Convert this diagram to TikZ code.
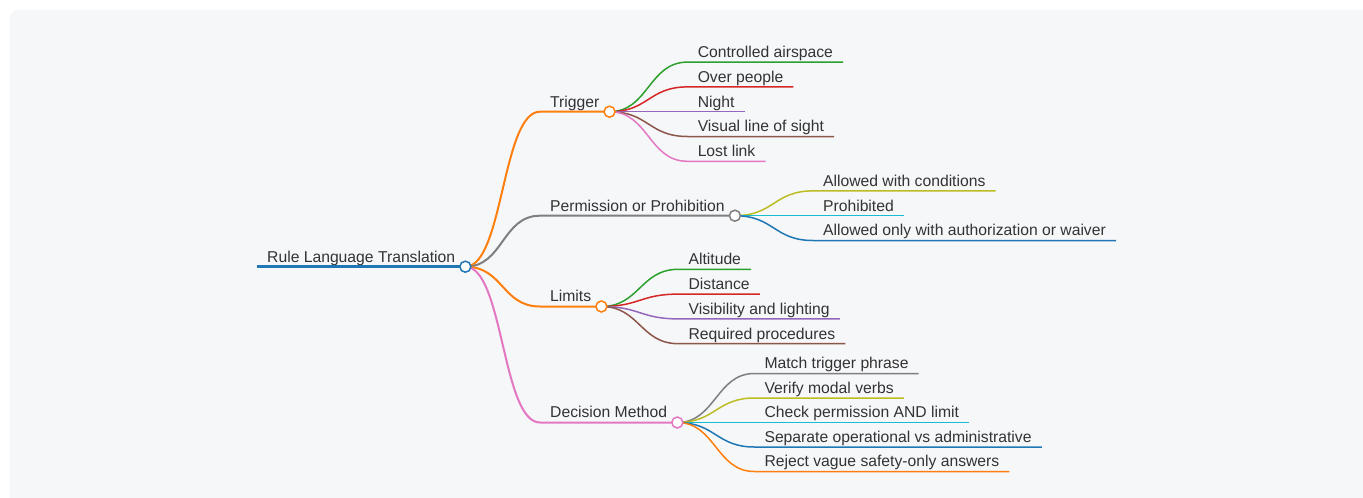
\documentclass[tikz,border=0pt]{standalone}
\usepackage{fontspec}
\setmainfont{Liberation Sans}
\usetikzlibrary{calc}
\definecolor{blue}{RGB}{31,119,180}
\definecolor{orange}{RGB}{255,127,14}
\definecolor{green}{RGB}{44,160,44}
\definecolor{red}{RGB}{214,39,40}
\definecolor{purple}{RGB}{148,103,189}
\definecolor{brown}{RGB}{140,86,75}
\definecolor{pink}{RGB}{227,119,194}
\definecolor{gray}{RGB}{127,127,127}
\definecolor{olive}{RGB}{188,189,34}
\definecolor{cyan}{RGB}{23,190,207}
\definecolor{ink}{RGB}{51,51,51}
\definecolor{card}{RGB}{246,247,249}
\tikzstyle{lbl}=[anchor=south west, inner xsep=10pt, inner ysep=4.5pt, text depth=0pt, text=ink, font=\fontsize{15.7}{18}\selectfont]
\tikzstyle{knob}=[circle, draw, fill=white, line width=1.5pt, minimum size=11pt, inner sep=0pt]
\tikzstyle{trunk}=[line width=3.5pt]
\tikzstyle{branch}=[line width=2pt]
\tikzstyle{twig}=[line width=1.5pt]

\begin{document}
\begin{tikzpicture}[x=1pt,y=-1pt]
    %mind map: root, four branches, leaves fanned out to the right
    \useasboundingbox (0,0) rectangle (1363,498);
    \clip (0,0) rectangle (1363,498);
    \fill[card, rounded corners=8pt] (10,10) rectangle (1380,515);

    \node[lbl](b0) at (257,266.7){Rule Language Translation};
    \coordinate (k0) at (b0.south east);
    \draw[blue, trunk] (b0.south west) -- (k0);

    \foreach \n/\txt/\yy/\col in {1/Trigger/111.7/orange,2/Permission or Prohibition/215.7/gray,3/Limits/306.5/orange,4/Decision Method/422.5/pink}{
        \node[lbl](b\n) at (540,\yy){\txt};
        \coordinate (k\n) at (b\n.south east);
        \draw[\col, branch] (k0) .. controls +(38,0) and +(-38,0) .. (b\n.south west) -- (k\n);
    }

    \foreach \txt/\col [count=\i] in {Controlled airspace/green,Over people/red,Night/purple,Visual line of sight/brown,Lost link/pink}{
        \pgfmathsetmacro\dy{(\i-3)*24.8}
        \node[lbl](t\i) at ($(k1)+(78,\dy)$){\txt};
        \draw[\col, twig] (k1) .. controls +(39,0) and +(-39,0) .. (t\i.south west) -- (t\i.south east);
    }
    \foreach \txt/\col [count=\i] in {Allowed with conditions/olive,Prohibited/cyan,Allowed only with authorization or waiver/blue}{
        \pgfmathsetmacro\dy{(\i-2)*24.8}
        \node[lbl](p\i) at ($(k2)+(78,\dy)$){\txt};
        \draw[\col, twig] (k2) .. controls +(39,0) and +(-39,0) .. (p\i.south west) -- (p\i.south east);
    }
    \foreach \txt/\col [count=\i] in {Altitude/green,Distance/red,Visibility and lighting/purple,Required procedures/brown}{
        \pgfmathsetmacro\dy{(\i-2.5)*24.8}
        \node[lbl](l\i) at ($(k3)+(77,\dy)$){\txt};
        \draw[\col, twig] (k3) .. controls +(38,0) and +(-38,0) .. (l\i.south west) -- (l\i.south east);
    }
    \foreach \txt/\col [count=\i] in {Match trigger phrase/gray,Verify modal verbs/olive,Check permission AND limit/cyan,Separate operational vs administrative/blue,Reject vague safety-only answers/orange}{
        \pgfmathsetmacro\dy{(\i-3)*24.5}
        \node[lbl](d\i) at ($(k4)+(77,\dy)$){\txt};
        \draw[\col, twig] (k4) .. controls +(38,0) and +(-38,0) .. (d\i.south west) -- (d\i.south east);
    }

    %knobs on top of the lines
    \node[knob, draw=blue](dot0) at (k0){};
    \foreach \n/\col in {1/orange,2/gray,3/orange,4/pink}{
        \node[knob, draw=\col](dot\n) at (k\n){};
    }
\end{tikzpicture}
\end{document}
